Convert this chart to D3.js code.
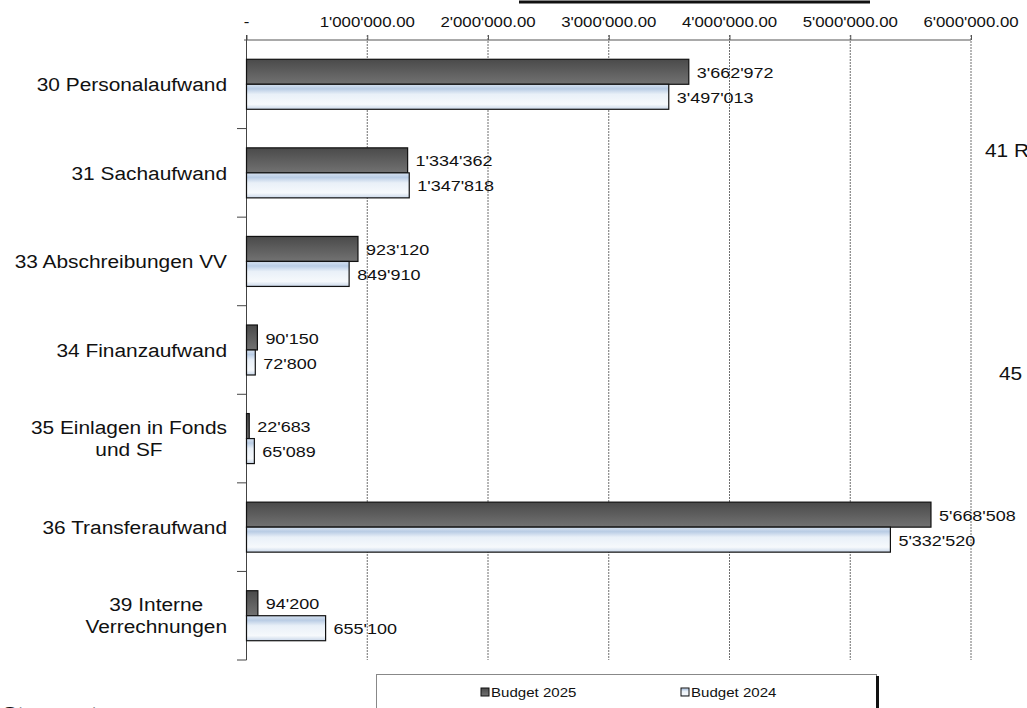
<!DOCTYPE html>
<html>
<head>
<meta charset="utf-8">
<script src="https://cdn.jsdelivr.net/npm/d3@7"></script>
<style>
  body { margin: 0; background: #fff; overflow: hidden; }
  svg text { font-family: "Liberation Sans", Arial, sans-serif; fill: #111; }
</style>
</head>
<body>
<svg id="chart" width="1027" height="708"></svg>
<script>
// data
var categories = ["30 Personalaufwand", "31 Sachaufwand", "33 Abschreibungen VV", "34 Finanzaufwand",
                  "35 Einlagen in Fonds|und SF", "36 Transferaufwand", "39 Interne|Verrechnungen"];
var budget2025 = [3662972, 1334362, 923120, 90150, 22683, 5668508, 94200];
var budget2024 = [3497013, 1347818, 849910, 72800, 65089, 5332520, 655100];
var seriesNames = ["Budget 2025", "Budget 2024"];
var tickValues = [0, 1000000, 2000000, 3000000, 4000000, 5000000, 6000000];

var svg = d3.select("#chart");
var sx = 1.16; // the original text is a bit wide

// text helper, stretched horizontally
function txt(parent, x, y, str, size, anchor) {
  return parent.append("text")
    .attr("transform", "translate(" + x + "," + y + ") scale(" + sx + ",1)")
    .attr("font-size", size)
    .attr("text-anchor", anchor || "start")
    .text(str);
}

var defs = svg.append("defs");
var gDark = defs.append("linearGradient").attr("id", "gDark").attr("x1", 0).attr("y1", 0).attr("x2", 0).attr("y2", 1);
gDark.append("stop").attr("offset", "0%").attr("stop-color", "#4a4a4a");
gDark.append("stop").attr("offset", "100%").attr("stop-color", "#727272");
var gLight = defs.append("linearGradient").attr("id", "gLight").attr("x1", 0).attr("y1", 0).attr("x2", 0).attr("y2", 1);
gLight.append("stop").attr("offset", "0%").attr("stop-color", "#d6e2f1");
gLight.append("stop").attr("offset", "18%").attr("stop-color", "#b9cce4");
gLight.append("stop").attr("offset", "40%").attr("stop-color", "#e9f0f8");
gLight.append("stop").attr("offset", "80%").attr("stop-color", "#f6f9fc");
gLight.append("stop").attr("offset", "100%").attr("stop-color", "#c9d7e9");

var x = d3.scaleLinear().domain([0, 6000000]).range([246.5, 971]);
var y = d3.scaleBand().domain(categories).range([40, 660]).paddingInner(0).paddingOuter(0);
var barH = 25;

function fmtTick(v) {
  if (v === 0) return "-";
  return d3.format(",.2f")(v).replace(/,/g, "'");
}
function fmtVal(v) { return d3.format(",")(v).replace(/,/g, "'"); }

// vertical grid lines
svg.append("g").selectAll("line").data(tickValues.slice(1)).enter().append("line")
  .attr("x1", function(d){ return x(d) }).attr("x2", function(d){ return x(d) })
  .attr("y1", 35).attr("y2", 660)
  .attr("stroke", "#6f6f6f").attr("stroke-width", 1).attr("stroke-dasharray", "2,1");

// top axis
var xAxis = d3.axisTop(x).tickValues(tickValues).tickFormat("").tickSize(5);
var gx = svg.append("g").attr("transform", "translate(0,40)").call(xAxis);
gx.select(".domain").attr("stroke", "#555").attr("d", "M244,0H971");
gx.selectAll(".tick line").attr("stroke", "#555");
tickValues.forEach(function(v){
  txt(svg, x(v), 27, fmtTick(v), 14.5, "middle");
});

// left axis
svg.append("line").attr("x1", 246.5).attr("x2", 246.5).attr("y1", 35).attr("y2", 660).attr("stroke", "#444");
var bounds = categories.map(function(c){ return y(c) + y.bandwidth() });
svg.append("g").selectAll("line").data(bounds).enter().append("line")
  .attr("x1", 237).attr("x2", 246.5)
  .attr("y1", function(d){ return d }).attr("y2", function(d){ return d })
  .attr("stroke", "#444");

// bars
var rows = categories.map(function(c, i){ return {cat: c, v25: budget2025[i], v24: budget2024[i]} });
var g = svg.append("g");
rows.forEach(function(r){
  var mid = y(r.cat) + y.bandwidth() / 2;
  g.append("rect").attr("x", x(0)).attr("y", mid - barH).attr("width", x(r.v25) - x(0)).attr("height", barH)
    .attr("fill", "url(#gDark)").attr("stroke", "#111").attr("stroke-width", 1.2);
  g.append("rect").attr("x", x(0)).attr("y", mid).attr("width", x(r.v24) - x(0)).attr("height", barH)
    .attr("fill", "url(#gLight)").attr("stroke", "#111").attr("stroke-width", 1.2);
  txt(g, x(r.v25) + 8, mid - barH / 2 + 6, fmtVal(r.v25), 15.5);
  txt(g, x(r.v24) + 8, mid + barH / 2 + 6, fmtVal(r.v24), 15.5);

  // category label
  var lines = r.cat.split("|");
  if (lines.length == 1) {
    txt(svg, 227, mid + 7, lines[0], 18, "end");
  } else {
    var ts = lines.map(function(l, k){ return txt(svg, 0, mid - 5 + k * 22, l, 18, "middle") });
    var maxW = 0;
    ts.forEach(function(t){ maxW = Math.max(maxW, t.node().getComputedTextLength() * sx) });
    ts.forEach(function(t, k){
      t.attr("transform", "translate(" + (227 - maxW / 2) + "," + (mid - 5 + k * 22) + ") scale(" + sx + ",1)");
    });
  }
});

// clipped leftovers from the neighbouring chart
svg.append("line").attr("x1", 519).attr("x2", 870).attr("y1", 2).attr("y2", 2).attr("stroke", "#111").attr("stroke-width", 3);
txt(svg, 985, 157, "41 Regalien und Konzessionen", 18);
txt(svg, 999, 380, "45 Entnahmen aus Fonds", 18);
txt(svg, 2, 721, "Steuerertrag", 20);

// legend
var leg = svg.append("g");
leg.append("rect").attr("x", 376.5).attr("y", 674.5).attr("width", 500).attr("height", 50)
  .attr("fill", "#fff").attr("stroke", "#888");
leg.append("line").attr("x1", 877.5).attr("x2", 877.5).attr("y1", 676).attr("y2", 708).attr("stroke", "#111").attr("stroke-width", 3);
var legX = [481, 681];
seriesNames.forEach(function(s, i){
  leg.append("rect").attr("x", legX[i]).attr("y", 688).attr("width", 8).attr("height", 8)
    .attr("fill", i == 0 ? "url(#gDark)" : "url(#gLight)").attr("stroke", "#111");
  txt(leg, legX[i] + 10, 697, s, 13);
});
</script>
</body>
</html>
